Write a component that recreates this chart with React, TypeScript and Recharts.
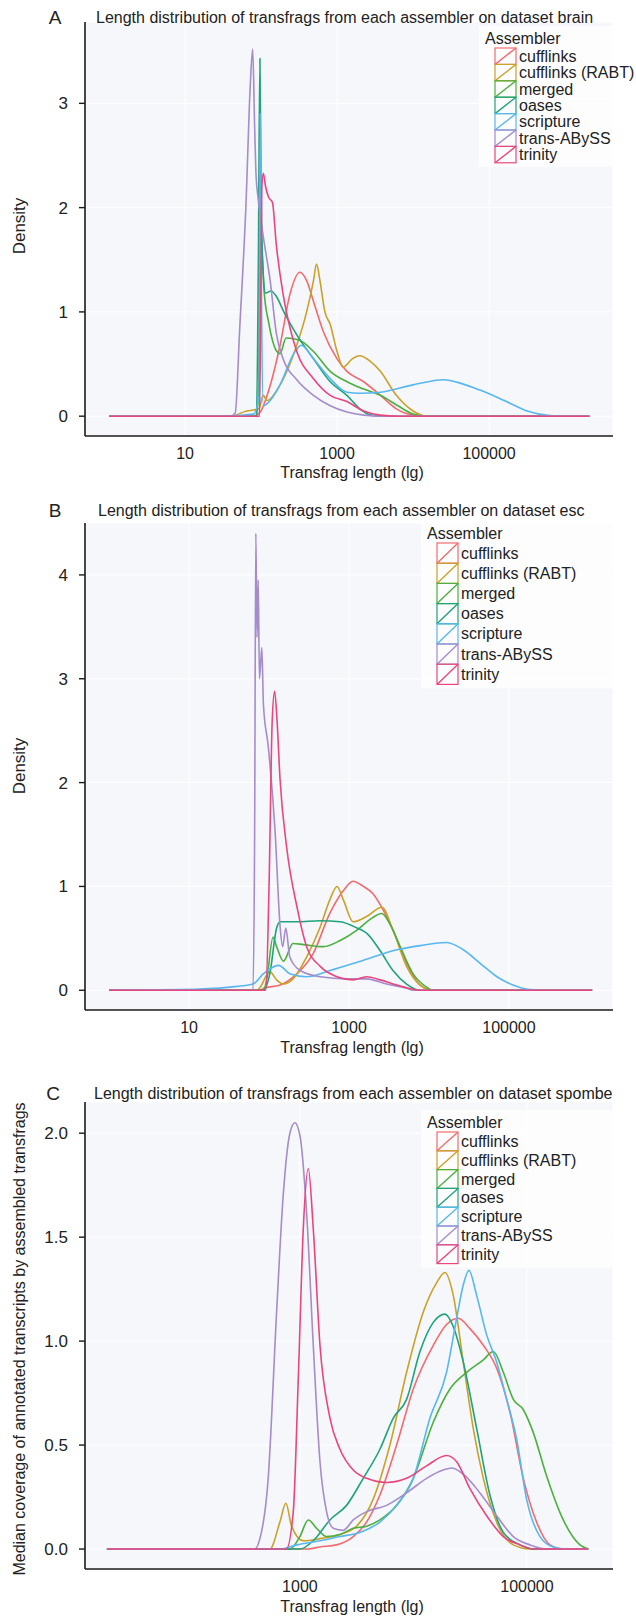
import React from 'react';
import { LineChart, Line, XAxis, YAxis, CartesianGrid } from 'recharts';

const FONT = '"Liberation Sans", Arial, sans-serif';

const ASSEMBLERS = ['cufflinks', 'cufflinks (RABT)', 'merged', 'oases', 'scripture', 'trans-ABySS', 'trinity'];
const COLORS = ['#F26B6F', '#C9A227', '#4CAF3F', '#1FA37A', '#58B7F0', '#A58CCB', '#E9467E'];

type Pt = [number, number];

// each point: [log10(transfrag length), density]
// ---- A: brain ----
const brainCufflinks: Pt[] = [[0, 0], [1.9, 0], [1.99, 0.04], [2.08, 0.2], [2.25, 0.68], [2.38, 1.17], [2.51, 1.38], [2.6, 1.3], [2.69, 1.1], [2.82, 0.81], [3.0, 0.55], [3.13, 0.43], [3.35, 0.33], [3.57, 0.2], [3.78, 0.07], [4.0, 0.01], [4.2, 0], [6.32, 0]];
const brainRabt: Pt[] = [[0, 0], [1.6, 0], [1.81, 0.05], [1.97, 0.07], [2.03, 0.2], [2.075, 0.15], [2.25, 0.3], [2.47, 0.68], [2.6, 1.0], [2.69, 1.3], [2.73, 1.46], [2.775, 1.3], [2.84, 1.0], [2.91, 0.88], [3.0, 0.62], [3.08, 0.47], [3.2, 0.55], [3.3, 0.58], [3.43, 0.53], [3.57, 0.43], [3.78, 0.2], [4.0, 0.05], [4.18, 0], [6.32, 0]];
const brainMerged: Pt[] = [[0, 0], [1.94, 0], [1.97, 0.3], [1.985, 2.3], [2.0, 1.9], [2.04, 1.2], [2.1, 0.9], [2.2, 0.63], [2.25, 0.6], [2.33, 0.75], [2.5, 0.73], [2.69, 0.62], [2.91, 0.43], [3.13, 0.33], [3.35, 0.26], [3.57, 0.2], [3.8, 0.1], [4.0, 0.02], [4.15, 0], [6.32, 0]];
const brainOases: Pt[] = [[0, 0], [1.94, 0], [1.965, 1.5], [1.985, 3.43], [2.0, 2.2], [2.02, 1.5], [2.06, 1.18], [2.13, 1.2], [2.2, 1.15], [2.3, 1.0], [2.47, 0.78], [2.69, 0.55], [2.91, 0.33], [3.13, 0.2], [3.3, 0.07], [3.45, 0.01], [3.6, 0], [6.32, 0]];
const brainScripture: Pt[] = [[0, 0], [1.5, 0], [1.9, 0.02], [1.975, 0.2], [1.99, 2.9], [2.005, 1.2], [2.03, 0.1], [2.08, 0.12], [2.25, 0.3], [2.43, 0.6], [2.53, 0.68], [2.69, 0.55], [2.91, 0.36], [3.13, 0.23], [3.3, 0.22], [3.57, 0.23], [4.0, 0.3], [4.4, 0.35], [4.65, 0.31], [4.88, 0.25], [5.2, 0.15], [5.5, 0.05], [5.8, 0.005], [6.0, 0], [6.32, 0]];
const brainTransAbyss: Pt[] = [[0, 0], [1.6, 0], [1.66, 0.03], [1.72, 0.85], [1.8, 2.0], [1.86, 3.2], [1.89, 3.52], [1.915, 2.8], [1.935, 2.3], [1.96, 2.1], [2.03, 1.72], [2.12, 1.3], [2.2, 0.8], [2.29, 0.55], [2.47, 0.35], [2.69, 0.2], [2.91, 0.1], [3.13, 0.04], [3.35, 0.01], [3.6, 0], [6.32, 0]];
const brainTrinity: Pt[] = [[0, 0], [1.98, 0], [1.995, 1.0], [2.01, 2.2], [2.03, 2.33], [2.06, 2.2], [2.1, 2.1], [2.15, 2.05], [2.2, 1.65], [2.29, 1.17], [2.38, 0.85], [2.47, 0.62], [2.69, 0.36], [2.91, 0.2], [3.13, 0.14], [3.35, 0.05], [3.57, 0.01], [3.8, 0], [6.32, 0]];

// ---- B: esc ----
const escCufflinks: Pt[] = [[0, 0], [1.9, 0], [1.93, 0.02], [2.14, 0.05], [2.35, 0.16], [2.55, 0.35], [2.76, 0.74], [2.93, 0.96], [3.05, 1.05], [3.18, 1.0], [3.3, 0.93], [3.43, 0.77], [3.55, 0.58], [3.72, 0.26], [3.89, 0.05], [4.05, 0], [6.04, 0]];
const escRabt: Pt[] = [[0, 0], [1.85, 0], [1.89, 0.03], [2.01, 0.18], [2.095, 0.1], [2.18, 0.06], [2.3, 0.11], [2.47, 0.32], [2.64, 0.61], [2.76, 0.87], [2.85, 1.0], [2.93, 0.87], [3.05, 0.66], [3.22, 0.71], [3.41, 0.8], [3.55, 0.58], [3.72, 0.23], [3.89, 0.05], [4.05, 0], [6.04, 0]];
const escMerged: Pt[] = [[0, 0], [1.93, 0], [1.97, 0.1], [2.05, 0.51], [2.095, 0.42], [2.18, 0.28], [2.3, 0.45], [2.43, 0.44], [2.68, 0.42], [2.89, 0.48], [3.1, 0.58], [3.26, 0.68], [3.41, 0.74], [3.51, 0.64], [3.64, 0.42], [3.8, 0.16], [3.97, 0.03], [4.05, 0], [6.04, 0]];
const escOases: Pt[] = [[0, 0], [1.93, 0], [2.01, 0.16], [2.095, 0.6], [2.14, 0.66], [2.35, 0.66], [2.64, 0.67], [2.89, 0.66], [3.1, 0.6], [3.22, 0.55], [3.39, 0.38], [3.55, 0.19], [3.72, 0.06], [3.89, 0], [6.04, 0]];
const escScripture: Pt[] = [[0, 0], [0.9, 0.006], [1.51, 0.03], [1.8, 0.06], [1.93, 0.16], [2.12, 0.24], [2.26, 0.16], [2.47, 0.13], [2.76, 0.19], [3.18, 0.29], [3.6, 0.39], [3.89, 0.43], [4.22, 0.46], [4.43, 0.39], [4.64, 0.26], [4.85, 0.13], [5.05, 0.05], [5.26, 0.006], [5.47, 0], [6.04, 0]];
const escTransAbyss: Pt[] = [[0, 0], [1.8, 0], [1.82, 1.5], [1.835, 4.4], [1.85, 3.4], [1.865, 3.95], [1.88, 3.0], [1.91, 3.3], [1.93, 2.75], [1.99, 2.35], [2.075, 1.54], [2.14, 0.6], [2.17, 0.42], [2.21, 0.6], [2.26, 0.32], [2.39, 0.19], [2.64, 0.13], [2.97, 0.11], [3.22, 0.11], [3.47, 0.06], [3.72, 0.02], [3.8, 0], [6.04, 0]];
const escTrinity: Pt[] = [[0, 0], [1.96, 0], [2.0, 1.0], [2.04, 2.6], [2.07, 2.88], [2.1, 2.6], [2.138, 2.03], [2.22, 1.38], [2.35, 0.8], [2.47, 0.42], [2.64, 0.23], [2.85, 0.13], [3.05, 0.1], [3.22, 0.13], [3.39, 0.1], [3.6, 0.05], [3.8, 0.01], [3.9, 0], [6.04, 0]];

// ---- C: spombe ----
const spCufflinks: Pt[] = [[1.3, 0], [3.059, 0], [3.177, 0.01], [3.323, 0.02], [3.47, 0.06], [3.588, 0.13], [3.705, 0.26], [3.852, 0.5], [3.999, 0.77], [4.175, 0.98], [4.292, 1.08], [4.395, 1.11], [4.498, 1.06], [4.616, 0.98], [4.733, 0.87], [4.85, 0.66], [4.968, 0.34], [5.085, 0.13], [5.203, 0.02], [5.32, 0], [5.54, 0]];
const spRabt: Pt[] = [[1.3, 0], [2.736, 0], [2.824, 0.13], [2.877, 0.22], [2.927, 0.11], [3.03, 0.04], [3.177, 0.05], [3.353, 0.07], [3.5, 0.11], [3.646, 0.24], [3.793, 0.5], [3.94, 0.85], [4.087, 1.14], [4.204, 1.28], [4.278, 1.33], [4.351, 1.22], [4.439, 0.9], [4.527, 0.58], [4.616, 0.34], [4.733, 0.13], [4.88, 0.02], [5.027, 0], [5.54, 0]];
const spMerged: Pt[] = [[1.3, 0], [2.912, 0], [3.0, 0.06], [3.074, 0.14], [3.147, 0.1], [3.235, 0.06], [3.353, 0.07], [3.47, 0.1], [3.588, 0.11], [3.705, 0.14], [3.852, 0.21], [3.999, 0.34], [4.175, 0.61], [4.322, 0.77], [4.469, 0.85], [4.616, 0.91], [4.704, 0.95], [4.792, 0.85], [4.88, 0.72], [4.968, 0.67], [5.056, 0.56], [5.174, 0.35], [5.32, 0.14], [5.467, 0.02], [5.54, 0]];
const spOases: Pt[] = [[1.3, 0], [3.0, 0], [3.118, 0.04], [3.265, 0.14], [3.411, 0.21], [3.558, 0.34], [3.705, 0.48], [3.823, 0.63], [3.94, 0.72], [4.058, 0.95], [4.175, 1.09], [4.278, 1.13], [4.351, 1.07], [4.439, 0.9], [4.557, 0.58], [4.674, 0.26], [4.792, 0.08], [4.939, 0.02], [5.056, 0], [5.54, 0]];
const spScripture: Pt[] = [[1.3, 0], [2.824, 0], [2.972, 0.02], [3.177, 0.04], [3.353, 0.06], [3.529, 0.08], [3.705, 0.13], [3.852, 0.21], [3.999, 0.34], [4.146, 0.63], [4.292, 0.85], [4.381, 1.11], [4.439, 1.27], [4.489, 1.34], [4.557, 1.22], [4.645, 1.03], [4.733, 0.9], [4.821, 0.72], [4.909, 0.53], [4.997, 0.24], [5.115, 0.06], [5.232, 0.01], [5.35, 0], [5.54, 0]];
const spTransAbyss: Pt[] = [[1.3, 0], [2.6, 0], [2.648, 0.05], [2.721, 0.34], [2.795, 1.14], [2.853, 1.7], [2.912, 2.0], [2.956, 2.05], [3.0, 1.99], [3.059, 1.62], [3.118, 0.98], [3.177, 0.42], [3.235, 0.18], [3.294, 0.1], [3.382, 0.09], [3.47, 0.14], [3.588, 0.18], [3.764, 0.21], [3.94, 0.27], [4.116, 0.34], [4.263, 0.38], [4.337, 0.39], [4.439, 0.36], [4.586, 0.27], [4.733, 0.16], [4.88, 0.06], [5.027, 0.02], [5.174, 0], [5.54, 0]];
const spTrinity: Pt[] = [[1.3, 0], [2.88, 0], [2.942, 0.18], [2.986, 0.82], [3.03, 1.54], [3.074, 1.83], [3.118, 1.54], [3.177, 0.98], [3.265, 0.63], [3.353, 0.48], [3.47, 0.38], [3.588, 0.34], [3.764, 0.32], [3.94, 0.34], [4.116, 0.4], [4.292, 0.45], [4.381, 0.42], [4.498, 0.29], [4.645, 0.16], [4.792, 0.06], [4.939, 0.02], [5.056, 0], [5.54, 0]];

const X_TICKS_AB = [10, 1000, 100000];
const X_TICKS_C = [1000, 100000];

const toRows = (pts: Pt[]) => pts.map(([lg, v]) => ({ len: Math.pow(10, lg), v }));

interface PanelProps {
  top: number;
  height: number;
  marginTop: number;
  axisH: number;
  xDomain: [number, number];
  xTicks: number[];
  yDomain: [number, number];
  yTicks: number[];
  yFmt: (v: number) => string;
  series: Pt[][];
}

const Panel = (p: PanelProps) => (
  <div style={{ position: 'absolute', left: 0, top: p.top }}>
    <LineChart width={636} height={p.height} margin={{ top: p.marginTop, right: 23, bottom: 0, left: 0 }}>
      <CartesianGrid fill="#f5f7fb" stroke="#ffffff" />
      <XAxis
        type="number"
        dataKey="len"
        scale="log"
        domain={p.xDomain}
        ticks={p.xTicks}
        allowDataOverflow
        height={p.axisH}
        tickLine={false}
        axisLine={{ stroke: '#1a1a1a', strokeWidth: 1.6 }}
        tick={{ fontSize: 16, fill: '#222', fontFamily: FONT }}
        tickMargin={6}
        tickFormatter={(v: number) => String(Math.round(v))}
      />
      <YAxis
        type="number"
        domain={p.yDomain}
        ticks={p.yTicks}
        allowDataOverflow
        width={85}
        tickSize={6}
        tickMargin={11}
        tickLine={{ stroke: '#1a1a1a', strokeWidth: 1.4 }}
        axisLine={{ stroke: '#1a1a1a', strokeWidth: 1.6 }}
        tick={{ fontSize: 17, fill: '#222', fontFamily: FONT }}
        tickFormatter={p.yFmt}
      />
      {p.series.map((s, i) => (
        <Line
          key={ASSEMBLERS[i]}
          data={toRows(s)}
          dataKey="v"
          type="monotone"
          stroke={COLORS[i]}
          strokeWidth={1.6}
          dot={false}
          activeDot={false}
          isAnimationActive={false}
        />
      ))}
    </LineChart>
  </div>
);

const Legend = ({ x, y, row }: { x: number; y: number; row: number }) => (
  <g fontFamily={FONT} fontSize={16} fill="#222">
    <rect x={x - 6} y={y - 12} width={636 - x + 6} height={row * 7 + 26} fill="#ffffff" opacity={0.75} />
    <text x={x} y={y} fontSize={16} dominantBaseline="central">Assembler</text>
    {ASSEMBLERS.map((name, i) => {
      const top = y + 10 + i * row;
      return (
        <g key={name}>
          <rect x={x + 10} y={top} width={21} height={row} fill="none" stroke={COLORS[i]} strokeWidth={1.2} />
          <line x1={x + 10} y1={top + row} x2={x + 31} y2={top} stroke={COLORS[i]} strokeWidth={1.4} />
          <text x={x + 34} y={top + row / 2} fontSize={16} dominantBaseline="central">{name}</text>
        </g>
      );
    })}
  </g>
);

const Overlay = () => (
  <svg width={636} height={1618} style={{ position: 'absolute', left: 0, top: 0, pointerEvents: 'none' }}>
    <g fontFamily={FONT} fill="#222">
      <text x={55} y={17} fontSize={19} textAnchor="middle" dominantBaseline="central">A</text>
      <text x={96} y={17} fontSize={16} dominantBaseline="central">Length distribution of transfrags from each assembler on dataset brain</text>
      <text x={55} y={510} fontSize={19} textAnchor="middle" dominantBaseline="central">B</text>
      <text x={98} y={510} fontSize={16} dominantBaseline="central">Length distribution of transfrags from each assembler on dataset esc</text>
      <text x={53} y={1093} fontSize={19} textAnchor="middle" dominantBaseline="central">C</text>
      <text x={94} y={1093} fontSize={16} dominantBaseline="central">Length distribution of transfrags from each assembler on dataset spombe</text>

      <text transform="translate(19,226) rotate(-90)" fontSize={17} textAnchor="middle" dominantBaseline="central">Density</text>
      <text transform="translate(19,766) rotate(-90)" fontSize={17} textAnchor="middle" dominantBaseline="central">Density</text>
      <text transform="translate(19,1339) rotate(-90)" fontSize={16} textAnchor="middle" dominantBaseline="central">Median coverage of annotated transcripts by assembled transfrags</text>

      <text x={352} y={472} fontSize={16} textAnchor="middle" dominantBaseline="central">Transfrag length (lg)</text>
      <text x={352} y={1047} fontSize={16} textAnchor="middle" dominantBaseline="central">Transfrag length (lg)</text>
      <text x={352} y={1606} fontSize={16} textAnchor="middle" dominantBaseline="central">Transfrag length (lg)</text>
    </g>
    <Legend x={485} y={38} row={16.4} />
    <Legend x={427} y={533} row={20.2} />
    <Legend x={427} y={1122} row={18.8} />
  </svg>
);

const App: React.FC = () => {
  return (
    <div style={{ position: 'absolute', left: 0, top: 0, width: 636, height: 1618, background: '#ffffff', overflow: 'hidden' }}>
      <Panel
        top={0}
        height={500}
        marginTop={22}
        axisH={64}
        xDomain={[0.483, 4270000]}
        xTicks={X_TICKS_AB}
        yDomain={[-0.19, 3.78]}
        yTicks={[0, 1, 2, 3]}
        yFmt={(v) => String(v)}
        series={[brainCufflinks, brainRabt, brainMerged, brainOases, brainScripture, brainTransAbyss, brainTrinity]}
      />
      <Panel
        top={500}
        height={580}
        marginTop={23}
        axisH={70}
        xDomain={[0.5, 2000000]}
        xTicks={X_TICKS_AB}
        yDomain={[-0.19, 4.5]}
        yTicks={[0, 1, 2, 3, 4]}
        yFmt={(v) => String(v)}
        series={[escCufflinks, escRabt, escMerged, escOases, escScripture, escTransAbyss, escTrinity]}
      />
      <Panel
        top={1080}
        height={538}
        marginTop={22}
        axisH={49}
        xDomain={[12.8, 573000]}
        xTicks={X_TICKS_C}
        yDomain={[-0.096, 2.15]}
        yTicks={[0, 0.5, 1, 1.5, 2]}
        yFmt={(v) => v.toFixed(1)}
        series={[spCufflinks, spRabt, spMerged, spOases, spScripture, spTransAbyss, spTrinity]}
      />
      <Overlay />
    </div>
  );
};

export default App;
